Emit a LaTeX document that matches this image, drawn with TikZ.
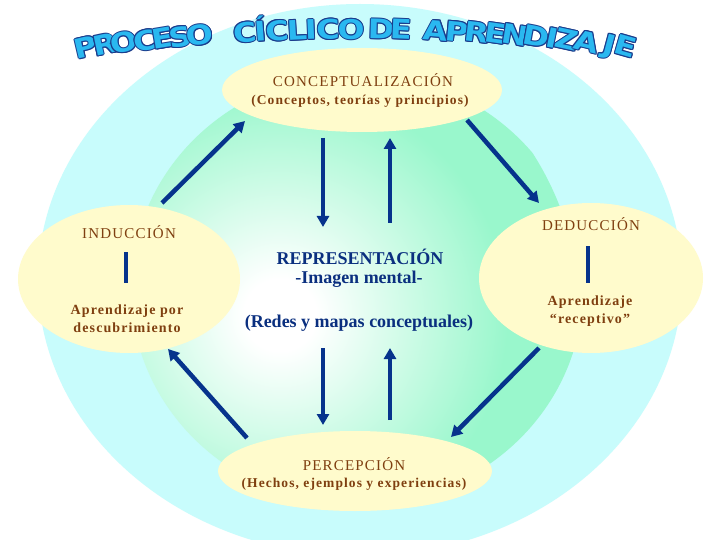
\documentclass[tikz,border=0pt]{standalone}
\usepackage{fontspec}
\setmainfont{Liberation Serif}
\newfontfamily\titlefont{DejaVu Sans}
\usetikzlibrary{arrows.meta,shapes.geometric}
\definecolor{cyanbg}{HTML}{C8FCFC}
\definecolor{greenbg}{HTML}{99F7CC}
\definecolor{ybg}{HTML}{FFFBCC}
\definecolor{brownt}{HTML}{7F3F10}
\definecolor{navyt}{HTML}{0A2F7F}
\definecolor{arrowc}{HTML}{06338C}
\definecolor{titlefill}{HTML}{2AB8F0}
\definecolor{titleline}{HTML}{1A3C8C}
\pgfdeclareradialshading{gw}{\pgfpoint{0bp}{0bp}}{color(0bp)=(white); color(3bp)=(white); color(19bp)=(greenbg); color(50bp)=(greenbg)}
\tikzset{
  ybox/.style={ellipse, fill=ybg, draw=none, inner sep=0pt},
  ttl/.style={text=brownt, inner sep=0pt, font=\fontsize{15}{18}\selectfont\addfontfeatures{LetterSpace=8}},
  sub/.style={text=brownt, inner sep=0pt, align=center, font=\bfseries\fontsize{13.5}{18}\selectfont\addfontfeatures{LetterSpace=8}},
  body/.style={text=brownt, inner sep=0pt, align=center, font=\bfseries\fontsize{14}{18}\selectfont\addfontfeatures{LetterSpace=8}},
  rep/.style={text=navyt, inner sep=0pt, font=\bfseries\fontsize{18}{21}\selectfont},
  bar/.style={rectangle, fill=arrowc, inner sep=0pt, minimum width=4pt},
  arr/.style={draw=arrowc, line width=4.5pt, -{Triangle[length=11pt,width=12pt]}},
  tin/.style={inner sep=0pt, text height=20pt, text depth=0pt, font=\titlefont\bfseries\fontsize{27}{28}\selectfont},
}
\newcommand\wide[1]{\scalebox{1.18}[1]{#1}}
\newcommand\oc[1]{\textcolor{titleline}{\wide{#1}}}
\newcommand\outl[1]{\leavevmode
  \rlap{\kern1pt\oc{#1}}\rlap{\kern-1pt\oc{#1}}%
  \rlap{\raisebox{1pt}{\oc{#1}}}\rlap{\raisebox{-1pt}{\oc{#1}}}%
  \rlap{\kern0.7pt\raisebox{0.7pt}{\oc{#1}}}\rlap{\kern-0.7pt\raisebox{0.7pt}{\oc{#1}}}%
  \rlap{\kern0.7pt\raisebox{-0.7pt}{\oc{#1}}}\rlap{\kern-0.7pt\raisebox{-0.7pt}{\oc{#1}}}%
  \textcolor{titlefill}{\wide{#1}}}
\begin{document}
\begin{tikzpicture}[x=1pt,y=-1pt]
\useasboundingbox (0,0) rectangle (720,540);
\fill[white] (0,0) rectangle (720,540);
% backgrounds
\fill[cyanbg] (360,280) ellipse [x radius=322pt, y radius=276pt];
\begin{scope}
  \clip (357,289) ellipse [x radius=226pt, y radius=216pt];
  \shade[shading=gw] (280,315) circle (300pt);
\end{scope}
% ellipses
\node[ybox, minimum width=280pt, minimum height=84pt] (concept) at (362,90) {};
\node[ybox, minimum width=222pt, minimum height=148pt] (ind) at (129,279) {};
\node[ybox, minimum width=224pt, minimum height=150pt] (ded) at (591,278) {};
\node[ybox, minimum width=274pt, minimum height=80pt] (perc) at (355,471) {};
% texts
\node[ttl] (concepttitle) at (363,80) {CONCEPTUALIZACIÓN};
\node[sub] (conceptsub) at (360,101) {(Conceptos, teorías y principios)};
\node[ttl] (indtitle) at (129,232) {INDUCCIÓN};
\node[bar, minimum height=31pt] (indbar) at (126,267.5) {};
\node[body] (indtext) at (127,319) {Aprendizaje por\\descubrimiento};
\node[ttl] (dedtitle) at (591,224) {DEDUCCIÓN};
\node[bar, minimum height=37pt] (dedbar) at (588,264.5) {};
\node[body] (dedtext) at (590,311) {Aprendizaje\\“receptivo”};
\node[ttl] (perctitle) at (354,464) {PERCEPCIÓN};
\node[sub] (percsub) at (354,484) {(Hechos, ejemplos y experiencias)};
\node[rep] (rep1) at (360,257) {REPRESENTACIÓN};
\node[rep] (rep2) at (359,279) {-Imagen mental-};
\node[rep] (rep3) at (359,323) {(Redes y mapas conceptuales)};
% arrow end points
\coordinate (a1s) at (162,203); \coordinate (a1e) at (245,121);
\coordinate (a2s) at (467,120); \coordinate (a2e) at (539,203);
\coordinate (a3s) at (323,138); \coordinate (a3e) at (323,227);
\coordinate (a4s) at (390,223); \coordinate (a4e) at (390,138);
\coordinate (a5s) at (323,348); \coordinate (a5e) at (323,425);
\coordinate (a6s) at (390,420); \coordinate (a6e) at (390,348);
\coordinate (a7s) at (247,438); \coordinate (a7e) at (168,349);
\coordinate (a8s) at (539,348); \coordinate (a8e) at (451,437);
\foreach \i in {1,...,8} \draw[arr] (a\i s) -- (a\i e);
% title
\foreach \ch/\xx [count=\k] in {P/86,R/105,O/124,C/145,E/163,S/180,O/200,C/245,Í/261,C/277,L/297,I/311,C/328,O/351,D/381,E/401,A/436,P/457,R/477,E/496,N/515,D/536,I/552,Z/567,A/587,J/610,E/626}{
  \pgfmathsetmacro\yy{29+2.4*((\xx-360)/100)^2}
  \pgfmathsetmacro\rr{(\xx<360) ? -0.048*(\xx-360) : -0.06*(\xx-360)}
  \node[tin, rotate=\rr] (t\k) at (\xx,\yy) {\outl{\ch}};
}
\end{tikzpicture}
\end{document}
